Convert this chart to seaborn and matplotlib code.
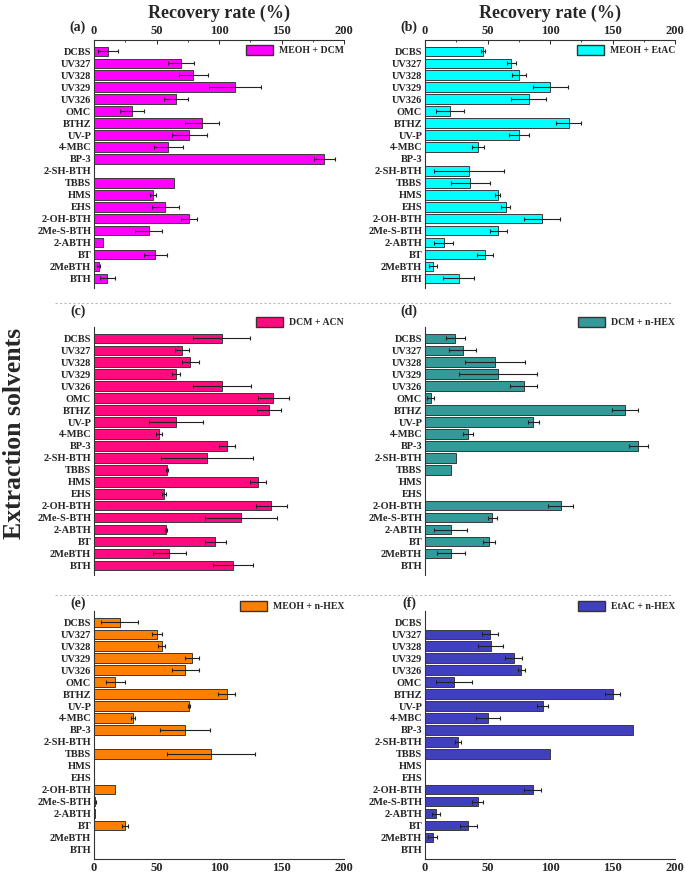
import numpy as np
import matplotlib
matplotlib.use("Agg")
import matplotlib.pyplot as plt
from matplotlib.patches import Patch
from matplotlib.lines import Line2D
from matplotlib.ticker import MultipleLocator
import seaborn as sns

sns.set_style("white")
plt.rcParams["font.family"] = ["Liberation Serif", "DejaVu Serif"]
plt.rcParams["font.weight"] = "bold"

# compounds, top to bottom
compounds = ["DCBS", "UV327", "UV328", "UV329", "UV326", "OMC", "BTHZ", "UV-P",
             "4-MBC", "BP-3", "2-SH-BTH", "TBBS", "HMS", "EHS", "2-OH-BTH",
             "2Me-S-BTH", "2-ABTH", "BT", "2MeBTH", "BTH"]

# recovery rate (%) and error for each solvent mix
rec_a = [11.4, 69.7, 79.3, 112.8, 65.7, 30.6, 86.2, 76.0, 59.3, 184.0,
         0, 64.0, 47.3, 57.0, 76.0, 43.6, 7.4, 49.0, 3.7, 10.4]
err_a = [8.0, 10.5, 11.5, 20.5, 9.5, 9.5, 13.7, 14.0, 11.5, 8.4,
         0, 0, 2.4, 11.0, 6.5, 11.0, 0, 9.0, 1.0, 6.0]

rec_b = [46.5, 69.0, 75.0, 100.0, 83.0, 20.0, 115.0, 75.0, 42.3, 0,
         35.0, 36.3, 58.2, 64.5, 93.5, 58.5, 14.9, 48.0, 6.5, 27.0]
err_b = [1.5, 3.5, 5.7, 14.0, 14.0, 11.0, 10.0, 8.0, 4.7, 0,
         28.0, 15.3, 2.0, 3.7, 14.4, 6.8, 7.6, 6.5, 3.0, 12.3]

rec_c = [102.0, 70.5, 76.9, 65.7, 102.4, 143.4, 139.6, 65.4, 52.0, 106.4,
         90.2, 58.5, 131.0, 56.0, 141.8, 117.6, 57.7, 97.0, 60.0, 111.4]
err_c = [23.0, 5.7, 6.8, 3.0, 23.0, 12.5, 9.6, 21.5, 2.4, 6.4,
         36.8, 1.0, 6.4, 1.9, 12.2, 29.0, 1.0, 8.2, 13.2, 16.0]

rec_d = [24.3, 30.0, 55.9, 58.5, 78.9, 4.4, 160.0, 86.7, 34.5, 170.5,
         24.5, 20.9, 0, 0, 108.4, 53.8, 20.4, 51.4, 20.9, 0]
err_d = [7.5, 11.0, 24.3, 31.0, 11.0, 2.5, 10.2, 4.6, 3.8, 7.5,
         0, 0, 0, 0, 9.8, 3.8, 13.0, 4.9, 11.3, 0]

rec_e = [20.5, 50.3, 54.0, 78.5, 73.1, 17.0, 106.0, 76.0, 31.4, 72.6,
         0, 93.6, 0, 0, 16.8, 0.8, 1.1, 25.0, 0, 0]
err_e = [14.6, 4.0, 3.0, 5.5, 10.6, 7.8, 6.8, 1.0, 1.5, 19.8,
         0, 35.4, 0, 0, 0, 1.0, 0, 2.5, 0, 0]

rec_f = [0, 52.0, 52.5, 71.0, 77.0, 23.0, 150.0, 94.0, 50.6, 166.6,
         26.6, 100.0, 0, 0, 86.0, 42.0, 8.9, 34.7, 6.0, 0]
err_f = [0, 6.7, 10.2, 6.8, 3.0, 14.6, 5.7, 4.2, 9.5, 0,
         2.3, 0, 0, 0, 6.7, 4.4, 3.4, 6.9, 3.4, 0]

W, H = 685, 877
fig = plt.figure(figsize=(W / 100, H / 100), dpi=100)


def px(left, top, width, height):
    return [left / W, 1 - (top + height) / H, width / W, height / H]


panels = [
    ("(a)", "MEOH + DCM", "#FF00FF", rec_a, err_a, 94, 40, "top"),
    ("(b)", "MEOH + EtAC", "#00FFFF", rec_b, err_b, 425, 40, "top"),
    ("(c)", "DCM + ACN", "#FF0A7F", rec_c, err_c, 94, 327, "none"),
    ("(d)", "DCM + n-HEX", "#339999", rec_d, err_d, 425, 327, "none"),
    ("(e)", "MEOH + n-HEX", "#FF8000", rec_e, err_e, 94, 611, "bottom"),
    ("(f)", "EtAC + n-HEX", "#4040BF", rec_f, err_f, 425, 611, "bottom"),
]

pos = np.arange(len(compounds))

for tag, name, color, rec, err, left, top, xpos in panels:
    ax = fig.add_axes(px(left, top, 250, 248))
    rec = np.array(rec)
    err = np.array(err)
    sns.barplot(x=rec, y=compounds, orient="h", color=color, saturation=1,
                edgecolor="#3a3a3a", linewidth=0.7, width=0.8,
                errorbar=None, ax=ax)
    m = err > 0
    ax.errorbar(rec[m], pos[m], xerr=err[m], fmt="none", ecolor="#222222",
                elinewidth=0.8, capsize=1.5, capthick=0.8)

    ax.set_xlim(0, 200)
    ax.set_ylim(19.8, -0.95)
    ax.set_ylabel("")
    ax.set_xlabel("")
    for s in ax.spines.values():
        s.set_visible(False)
        s.set_color("#333333")
        s.set_linewidth(0.8)
    ax.spines["left"].set_visible(True)
    ax.tick_params(axis="y", length=0, pad=2, labelsize=7.5)

    if xpos == "none":
        ax.set_xticks([])
    else:
        ax.spines[xpos].set_visible(True)
        ax.xaxis.set_major_locator(MultipleLocator(50))
        ax.xaxis.set_minor_locator(MultipleLocator(25))
        if xpos == "top":
            ax.xaxis.tick_top()
            ax.set_xlabel("Recovery rate (%)", fontsize=13, fontweight="bold",
                          labelpad=5)
            ax.xaxis.set_label_position("top")
        ax.tick_params(axis="x", which="major", direction="in", length=3,
                       width=0.7, labelsize=9, pad=2)
        ax.tick_params(axis="x", which="minor", direction="in", length=1.5,
                       width=0.6)

    y_anchor = 1 - 10 / 248 if xpos == "top" else 1 + 5 / 248
    ax.legend(handles=[Patch(facecolor=color, edgecolor="#333333", label=name)],
              loc="center right", bbox_to_anchor=(1.0, y_anchor), frameon=False,
              prop={"size": 7, "weight": "bold"}, handlelength=2.8,
              handleheight=1.2, handletextpad=0.6, borderaxespad=0, borderpad=0)

    label_y = {40: 27, 327: 311, 611: 603}[top]
    fig.text((left - 16) / W, 1 - label_y / H, tag, fontsize=10,
             fontweight="bold", ha="center", va="center")

# dashed separators between rows
for yy in (303, 595):
    fig.add_artist(Line2D([55 / W, 672 / W], [1 - yy / H, 1 - yy / H],
                          transform=fig.transFigure, ls=(0, (2, 2)),
                          color="#bbbbbb", lw=0.8))

fig.text(15 / W, 1 - 433 / H, "Extraction solvents", rotation=90,
         fontsize=18.5, fontweight="bold", ha="center", va="center")

fig.savefig("out.png", dpi=100)
